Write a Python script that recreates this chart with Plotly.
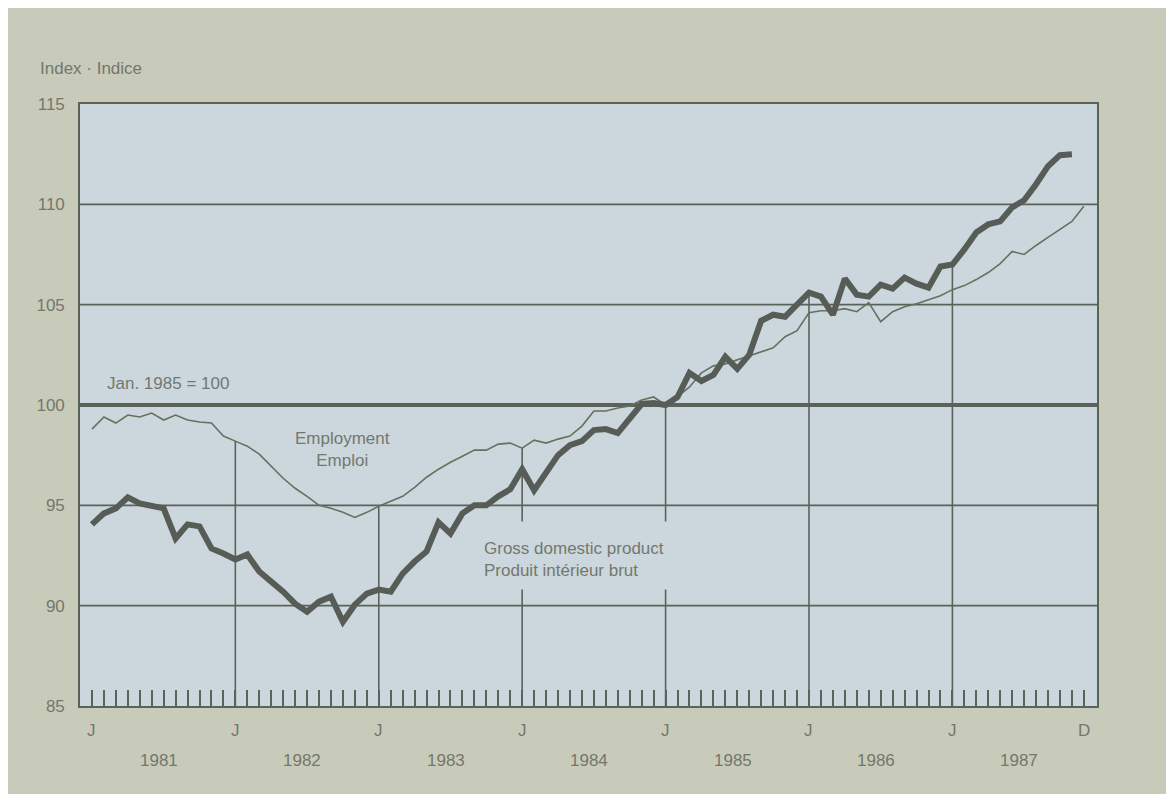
import plotly.graph_objects as go

# Monthly index values, Jan 1985 = 100 (month 0 = Jan 1981)
employment = [98.8, 99.4, 99.1, 99.5, 99.4, 99.6, 99.25, 99.5, 99.25, 99.15, 99.1, 98.45,
              98.2, 97.95, 97.55, 96.95, 96.35, 95.85, 95.45, 95.0, 94.85, 94.65, 94.4, 94.65,
              94.95, 95.2, 95.45, 95.9, 96.4, 96.8, 97.15, 97.45, 97.75, 97.75, 98.05, 98.1,
              97.85, 98.25, 98.1, 98.3, 98.45, 98.95, 99.7, 99.7, 99.85, 99.95, 100.25, 100.4,
              100.0, 100.4, 100.9, 101.6, 101.95, 102.05, 102.25, 102.45, 102.65, 102.85, 103.4, 103.7,
              104.6, 104.7, 104.7, 104.8, 104.65, 105.1, 104.15, 104.65, 104.9, 105.05, 105.25, 105.45,
              105.75, 105.95, 106.25, 106.6, 107.05, 107.65, 107.5, 107.95, 108.35, 108.75, 109.15, 109.9]

gdp = [94.05, 94.6, 94.85, 95.4, 95.1, 95.0, 94.85, 93.35, 94.05, 93.95, 92.85, 92.6,
       92.3, 92.55, 91.7, 91.2, 90.7, 90.1, 89.7, 90.2, 90.45, 89.2, 90.05, 90.6,
       90.8, 90.7, 91.6, 92.2, 92.7, 94.15, 93.6, 94.6, 95.0, 95.0, 95.45, 95.8,
       96.8, 95.75, 96.65, 97.5, 98.0, 98.2, 98.75, 98.8, 98.6, 99.3, 100.05, 100.1,
       100.0, 100.4, 101.6, 101.2, 101.5, 102.4, 101.8, 102.5, 104.2, 104.5, 104.4, 105.0,
       105.6, 105.4, 104.5, 106.3, 105.5, 105.4, 106.0, 105.8, 106.35, 106.05, 105.85, 106.9,
       107.0, 107.75, 108.6, 109.0, 109.15, 109.85, 110.2, 111.0, 111.9, 112.45, 112.5]

years = ["1981", "1982", "1983", "1984", "1985", "1986", "1987"]
month_labels = {0: "J", 12: "J", 24: "J", 36: "J", 48: "J", 60: "J", 72: "J", 83: "D"}
y_ticks = [85, 90, 95, 100, 105, 110, 115]
y_grid = [90, 95, 105, 110]

OUTER = "#c8cbb9"
PLOT = "#cbd7dd"
LINE = "#5b6259"
TEXT = "#74776d"
FONT = "Liberation Sans, Arial, sans-serif"

fig = go.Figure()

fig.add_trace(go.Scatter(x=list(range(len(employment))), y=employment, mode="lines",
                         line=dict(color="#66705f", width=1.6), showlegend=False,
                         hoverinfo="skip"))
fig.add_trace(go.Scatter(x=list(range(len(gdp))), y=gdp, mode="lines",
                         line=dict(color="#575c57", width=6), showlegend=False,
                         hoverinfo="skip"))

shapes = []
# horizontal grid
for g in y_grid:
    shapes.append(dict(type="line", xref="paper", yref="y", x0=0, x1=1, y0=g, y1=g,
                       line=dict(color=LINE, width=1.6), layer="below"))
shapes.append(dict(type="line", xref="paper", yref="y", x0=0, x1=1, y0=100, y1=100,
                   line=dict(color=LINE, width=4), layer="below"))
# vertical year lines, from the base up to the higher series
for m in range(12, 84, 12):
    top = max(employment[m], gdp[m])
    shapes.append(dict(type="line", xref="x", yref="y", x0=m, x1=m, y0=85, y1=top,
                       line=dict(color=LINE, width=1.6), layer="below"))
# background behind the GDP label
shapes.append(dict(type="rect", xref="x", yref="y", x0=32.3, x1=49.4, y0=90.8, y1=94.2,
                   fillcolor=PLOT, line=dict(width=0), layer="below"))

annotations = []
for m, t in month_labels.items():
    annotations.append(dict(x=m, y=-24/602, xref="x", yref="paper", text=t, showarrow=False,
                            font=dict(family=FONT, size=17, color=TEXT), yanchor="middle"))
for i, yr in enumerate(years):
    annotations.append(dict(x=12 * i + 5.6, y=-54/602, xref="x", yref="paper", text=yr, showarrow=False,
                            font=dict(family=FONT, size=17, color=TEXT), yanchor="middle"))
annotations.append(dict(x=-42/1017, y=1 + 36/602, xref="paper", yref="paper", text="Index · Indice",
                        showarrow=False, xanchor="left", yanchor="middle",
                        font=dict(family=FONT, size=17, color=TEXT)))
annotations.append(dict(x=1.1, y=101.05, xref="x", yref="y", text="Jan. 1985 = 100", showarrow=False,
                        xanchor="left", yanchor="middle", font=dict(family=FONT, size=17, color=TEXT)))
annotations.append(dict(x=21.0, y=97.8, xref="x", yref="y", text="Employment<br>Emploi", showarrow=False,
                        xanchor="center", yanchor="middle", align="center",
                        font=dict(family=FONT, size=17, color=TEXT)))
annotations.append(dict(x=32.6, y=92.3, xref="x", yref="y",
                        text="Gross domestic product<br>Produit intérieur brut", showarrow=False,
                        xanchor="left", yanchor="middle", align="left",
                        font=dict(family=FONT, size=17, color=TEXT)))

fig.update_layout(
    width=1174, height=794,
    margin=dict(l=72, r=85, t=96, b=96),
    paper_bgcolor=OUTER, plot_bgcolor=PLOT,
    shapes=shapes, annotations=annotations,
    font=dict(family=FONT, size=17, color=TEXT),
    xaxis=dict(range=[-1.0, 84.1], showgrid=False, zeroline=False,
               tickvals=list(range(84)), ticks="inside", ticklen=16, tickwidth=1.5,
               tickcolor=LINE, showticklabels=False,
               showline=True, linecolor=LINE, linewidth=2, mirror=True),
    yaxis=dict(range=[85, 115], showgrid=False, zeroline=False,
               tickvals=y_ticks, ticktext=[str(v) for v in y_ticks],
               ticks="outside", ticklen=10, tickcolor="rgba(0,0,0,0)",
               tickfont=dict(family=FONT, size=17, color=TEXT),
               showline=True, linecolor=LINE, linewidth=1.6, mirror=True),
)

fig.write_html("out.html")
